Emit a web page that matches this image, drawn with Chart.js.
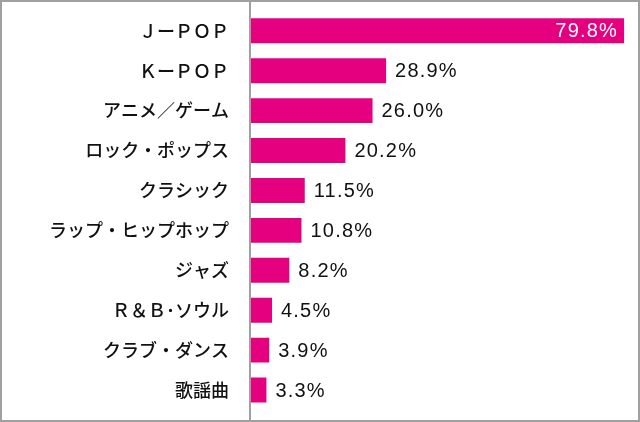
<!DOCTYPE html>
<html>
<head>
  <meta charset="utf-8">
  <title>Genre chart</title>
  <script src="https://cdn.jsdelivr.net/npm/chart.js@4"></script>
  <style>
    body { margin: 0; background: #fff; }
    #wrap { width: 640px; height: 422px; }
  </style>
</head>
<body>
  <div id="wrap"><canvas id="myCanvas" width="640" height="422"></canvas></div>
  <script>
  // genres and share of respondents (%)
  var genres = ['ＪーＰＯＰ', 'ＫーＰＯＰ', 'アニメ／ゲーム', 'ロック・ポップス', 'クラシック',
                'ラップ・ヒップホップ', 'ジャズ', 'Ｒ＆Ｂ･ソウル', 'クラブ・ダンス', '歌謡曲'];
  var shares = [79.8, 28.9, 26.0, 20.2, 11.5, 10.8, 8.2, 4.5, 3.9, 3.3];

  var pink = '#e4007f';

  // frame, axis line and value labels
  var extras = {
    id: 'extras',
    afterDraw: function(chart) {
      var ctx = chart.ctx;
      var xs = chart.scales.x;
      ctx.save();
      ctx.fillStyle = '#a0a0a0';
      ctx.fillRect(xs.left - 2, 0, 2, chart.height);
      ctx.strokeStyle = '#a0a0a0';
      ctx.lineWidth = 2;
      ctx.strokeRect(1, 1, chart.width - 2, chart.height - 2);

      ctx.font = '20px "Liberation Sans", Arial, sans-serif';
      ctx.letterSpacing = '1.2px';
      ctx.textBaseline = 'middle';
      var meta = chart.getDatasetMeta(0);
      meta.data.forEach(function(bar, i) {
        var txt = shares[i].toFixed(1) + '%';
        if (i === 0) {
          ctx.fillStyle = '#fff';
          ctx.textAlign = 'right';
          ctx.fillText(txt, bar.x - 6, bar.y + 1);
        } else {
          ctx.fillStyle = '#111';
          ctx.textAlign = 'left';
          ctx.fillText(txt, bar.x + 9, bar.y + 1);
        }
      });
      ctx.restore();
    }
  };

  new Chart(document.getElementById('myCanvas'), {
    type: 'bar',
    data: {
      labels: genres,
      datasets: [{
        data: shares,
        backgroundColor: pink,
        barPercentage: 0.625,
        categoryPercentage: 1
      }]
    },
    options: {
      indexAxis: 'y',
      responsive: false,
      animation: false,
      layout: { padding: { top: 9, bottom: 12, right: 15, left: 0 } },
      plugins: { legend: { display: false }, tooltip: { enabled: false } },
      scales: {
        x: { display: false, min: 0, max: 80 },
        y: {
          afterFit: function(s) { s.width = 251; },
          grid: { display: false, drawTicks: true, tickLength: 22 },
          border: { display: false },
          ticks: {
            padding: 0,
            color: '#111',
            font: { family: '"Noto Sans CJK JP", sans-serif', size: 18, weight: 500 }
          }
        }
      }
    },
    plugins: [extras]
  });
  </script>
</body>
</html>
